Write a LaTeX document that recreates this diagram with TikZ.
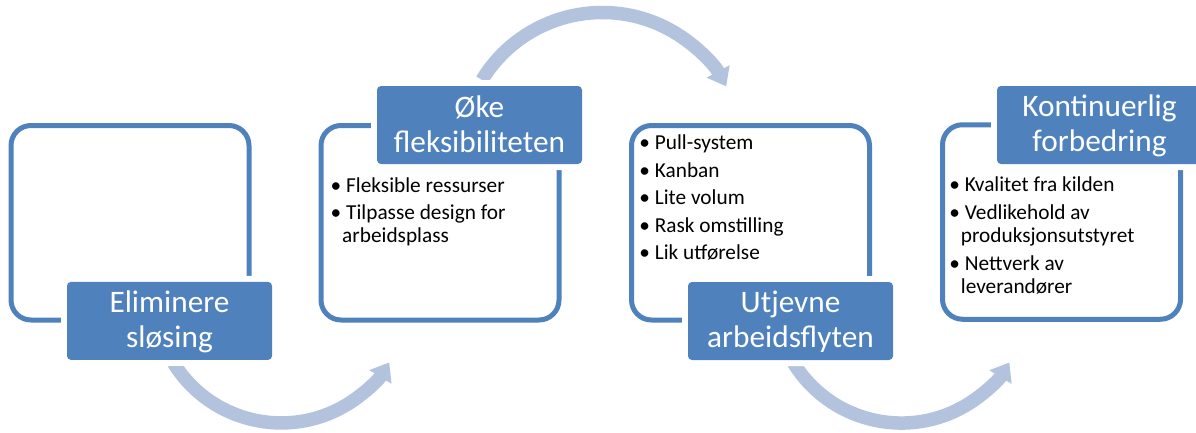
\documentclass[tikz,border=0pt]{standalone}
\usepackage{fontspec}
\setmainfont{Carlito}
\usetikzlibrary{arrows.meta}
\definecolor{accent}{RGB}{79,129,189}
\definecolor{flow}{RGB}{179,195,222}
% bullet line, continuation line, label strut
\newcommand{\bitem}[1]{\rule{0pt}{17pt}\makebox[15.5pt][l]{\textbullet}#1}
\newcommand{\bcont}[1]{\rule{0pt}{17pt}\hspace*{11.5pt}#1}
\newcommand{\lstrut}{\rule[-5pt]{0pt}{29pt}}
\begin{document}
\begin{tikzpicture}[x=1pt,y=-1pt,
  frame/.style={draw=accent, line width=5pt, rounded corners=20pt,
    minimum width=238pt, minimum height=194.5pt, inner sep=0pt},
  stage/.style={fill=accent, rounded corners=4pt, minimum width=205pt,
    minimum height=78pt, inner sep=0pt, align=center, text=white,
    font=\fontsize{31.3}{35}\selectfont,
    preaction={draw=white, line width=12pt}},
  items/.style={anchor=north west, inner sep=0pt, align=left,
    font=\fontsize{21.3}{23}\selectfont},
  flowarrow/.style={draw=flow, line width=13.5pt,
    -{Triangle[width=25pt,length=17pt]}}]
\useasboundingbox (0,0) rectangle (1196,432);

% outlined frames
\node[frame] (box1) at (130,222.75) {};
\node[frame] (box2) at (440,222.75) {};
\node[frame] (box3) at (750.5,222.75) {};
\node[frame] (box4) at (1061.5,222) {};

% stage titles (positions reused by the flow arrows)
\coordinate (c1) at (169.5,320.9);
\coordinate (c2) at (479.5,125);
\coordinate (c3) at (790.5,321);
\coordinate (c4) at (1099.5,125);

% curved flow arrows between the stages
\draw[flowarrow] ([shift={(4,42)}]c1) arc[start angle=148.25, end angle=31.5, radius=126.7];
\draw[flowarrow] ([shift={(2.5,-45)}]c2) arc[start angle=211.4, end angle=331.6, radius=140.9];
\draw[flowarrow] ([shift={(3.1,42)}]c3) arc[start angle=148.25, end angle=31.5, radius=126.7];

\node[stage] (s1) at (c1) {\lstrut Eliminere\\\lstrut sløsing};
\node[stage] (s2) at (c2) {\lstrut Øke\\\lstrut fleksibiliteten};
\node[stage] (s3) at (c3) {\lstrut Utjevne\\\lstrut arbeidsflyten};
\node[stage] (s4) at (c4) {\lstrut Kontinuerlig\\\lstrut forbedring};

% bullet lists
\node[items] (l2) at (330.5,175.3) {\bitem{Fleksible ressurser}\\[4pt]
  \bitem{Tilpasse design for}\\\bcont{arbeidsplass}};
\node[items] (l3) at (639.2,132.7) {\bitem{Pull-system}\\[4.5pt]
  \bitem{Kanban}\\[4.5pt]\bitem{Lite volum}\\[4.5pt]
  \bitem{Rask omstilling}\\[4.5pt]\bitem{Lik utførelse}};
\node[items] (l4) at (949.2,174.7) {\bitem{Kvalitet fra kilden}\\[4.5pt]
  \bitem{Vedlikehold av}\\\bcont{produksjonsutstyret}\\[5.5pt]
  \bitem{Nettverk av}\\\bcont{leverandører}};
\end{tikzpicture}
\end{document}
